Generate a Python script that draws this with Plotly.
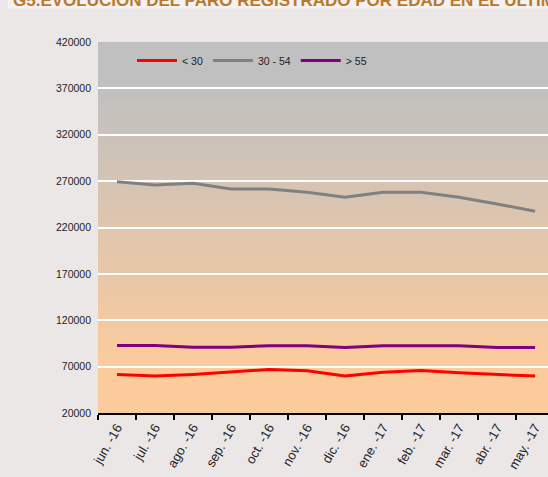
import plotly.graph_objects as go

months = ["jun. -16", "jul. -16", "ago. -16", "sep. -16", "oct. -16", "nov. -16",
          "dic. -16", "ene. -17", "feb. -17", "mar. -17", "abr. -17", "may. -17"]
menos_30 = [61600, 59800, 61600, 64000, 67000, 65500, 59800, 64000, 65900, 63300, 61600, 59800]
de_30_54 = [269400, 265900, 267600, 261500, 261500, 258000, 252600, 258000, 258000, 252600, 245400, 237500]
mas_55 = [92800, 92800, 91000, 91000, 92400, 92400, 90600, 92400, 92400, 92400, 90600, 90600]
y_ticks = [20000, 70000, 120000, 170000, 220000, 270000, 320000, 370000, 420000]

title_text = "G5.EVOLUCIÓN DEL PARO REGISTRADO POR EDAD EN EL ÚLTIMO AÑO"

W, H = 548, 477
ML, MR, MT, MB = 98, 0, 42, 64
PW, PH = W - ML - MR, H - MT - MB

def px_x(p):
    return (p - ML) / PW

def px_y(p):
    return 1 + (MT - p) / PH

fig = go.Figure()
series = [("< 30", menos_30, "#FF0000"), ("30 - 54", de_30_54, "#808080"), ("> 55", mas_55, "#800080")]
for name, vals, col in series:
    fig.add_trace(go.Scatter(x=months, y=vals, name=name, mode="lines",
                             line=dict(color=col, width=3)))

# gradient background (styling only)
shapes = []
top_c = (192, 192, 192)
bot_c = (252, 203, 156)
shapes.append(dict(type="rect", xref="paper", yref="paper", x0=0, x1=1, y0=0, y1=1,
                   fillcolor="rgb(192,192,192)", line=dict(width=0), layer="below"))
n = 150
g_top, g_bot = 370000, 70000
for i in range(n, -1, -1):
    y0 = g_top - i * (g_top - g_bot) / n
    t = min(1.0, (i + 0.5) / n)
    c = tuple(round(top_c[k] + (bot_c[k] - top_c[k]) * t) for k in range(3))
    shapes.append(dict(type="rect", xref="paper", yref="y", x0=0, x1=1,
                       y0=(20000 if i == n else y0), y1=g_top,
                       fillcolor="rgb(%d,%d,%d)" % c, line=dict(width=0), layer="below"))
# title bar
shapes.append(dict(type="rect", xref="paper", yref="paper", x0=px_x(8), x1=1.05,
                   y0=px_y(8.5), y1=px_y(-5), fillcolor="#F3F1F1", line=dict(width=0), layer="above"))

fig.update_layout(
    width=W, height=H,
    margin=dict(l=ML, r=MR, t=MT, b=MB, pad=0),
    paper_bgcolor="#ECE7E7",
    plot_bgcolor="#FCCB9C",
    font=dict(family="Liberation Sans, Arial, sans-serif", color="#222222"),
    shapes=shapes,
    showlegend=True,
    legend=dict(orientation="h", x=px_x(132), y=px_y(46), xanchor="left", yanchor="top",
                bgcolor="rgba(0,0,0,0)", font=dict(size=10.5, color="#222222"),
                itemwidth=40, tracegroupgap=0),
    annotations=[dict(text="<b>%s</b>" % title_text, xref="paper", yref="paper",
                      x=px_x(11), y=px_y(12.5), xanchor="left", yanchor="bottom",
                      showarrow=False,
                      font=dict(family="Liberation Sans, Arial, sans-serif", size=17, color="#B8792E"))],
)
fig.update_xaxes(type="category", range=[-0.5, 11.34], tickson="boundaries",
                 ticks="outside", ticklen=5, tickwidth=1.5, tickcolor="#000000",
                 showline=True, linecolor="#000000", linewidth=2, showgrid=False,
                 tickangle=-60, tickfont=dict(size=13, color="#222222"), zeroline=False)
fig.update_yaxes(range=[20000, 420000], tickvals=y_ticks, tickformat="d",
                 showgrid=True, gridcolor="#FFFFFF", gridwidth=2, zeroline=False,
                 showline=False, ticks="", ticklabelstandoff=6,
                 tickfont=dict(size=10.5, color="#222222"))

fig.write_html("out.html", config={"displayModeBar": False},
               post_script="document.body.style.margin='0';document.body.style.overflow='hidden';"
                           "document.body.style.background='#ECE7E7';")
